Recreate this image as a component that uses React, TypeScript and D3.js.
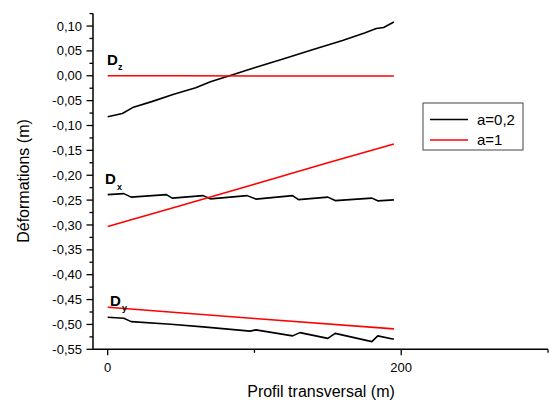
import React from "react";
import * as d3 from "d3";

const W = 549;
const H = 403;

// Dz
const dzBlackX = [0, 10, 17, 30, 45, 60, 70, 83, 100, 120, 140, 160, 175, 183, 188, 195];
const dzBlackY = [-0.0825, -0.076, -0.064, -0.052, -0.037, -0.024, -0.012, 0.0, 0.016, 0.034, 0.053, 0.071, 0.086, 0.095, 0.097, 0.108];
const dzRedX = [0, 50, 100, 150, 195];
const dzRedY = [0.0, 0.0, -0.0004, -0.0005, -0.0005];

// Dx
const dxBlackX = [0, 11, 16, 40, 44, 65, 70, 95, 101, 126, 130, 150, 155, 180, 184, 195];
const dxBlackY = [-0.239, -0.237, -0.244, -0.239, -0.246, -0.241, -0.2475, -0.241, -0.248, -0.241, -0.249, -0.244, -0.251, -0.246, -0.2515, -0.2495];
const dxRedX = [0, 50, 100, 150, 195];
const dxRedY = [-0.303, -0.261, -0.218, -0.175, -0.137];

// Dy
const dyBlackX = [0, 11, 16, 43, 65, 97, 101, 126, 131, 150, 155, 180, 184, 195];
const dyBlackY = [-0.4856, -0.4876, -0.4944, -0.4996, -0.505, -0.5135, -0.511, -0.523, -0.5165, -0.528, -0.518, -0.5346, -0.523, -0.5298];
const dyRedX = [0, 100, 195];
const dyRedY = [-0.4655, -0.488, -0.509];

const yMajorTicks = [0.1, 0.05, 0, -0.05, -0.1, -0.15, -0.2, -0.25, -0.3, -0.35, -0.4, -0.45, -0.5, -0.55];
const yMinorTicks = [0.125, 0.075, 0.025, -0.025, -0.075, -0.125, -0.175, -0.225, -0.275, -0.325, -0.375, -0.425, -0.475, -0.525];
const xMajorTicks = [0, 200];
const xMinorTicks = [100, 300];

const legendLabels = ["a=0,2", "a=1"];
const colors = ["#000000", "#ff0000"];

const FONT = "'Liberation Sans', Arial, sans-serif";

const x = d3.scaleLinear().domain([-10, 300]).range([93, 548]);
const y = d3.scaleLinear().domain([-0.55, 0.125]).range([349.3, 13.6]);

const line = d3
  .line<[number, number]>()
  .x((d) => x(d[0]))
  .y((d) => y(d[1]));

function zip(xs: number[], ys: number[]): [number, number][] {
  return xs.map((v, i) => [v, ys[i]]);
}

const series = [
  { xs: dzBlackX, ys: dzBlackY, c: colors[0] },
  { xs: dxBlackX, ys: dxBlackY, c: colors[0] },
  { xs: dyBlackX, ys: dyBlackY, c: colors[0] },
  { xs: dzRedX, ys: dzRedY, c: colors[1] },
  { xs: dxRedX, ys: dxRedY, c: colors[1] },
  { xs: dyRedX, ys: dyRedY, c: colors[1] },
];

const fmt = (v: number) => d3.format(".2f")(v).replace("−", "-").replace(".", ",");

const annotations = [
  { main: "D", sub: "z", x: 107, y: 65, sx: 118, sy: 70 },
  { main: "D", sub: "x", x: 105, y: 184, sx: 117, sy: 190 },
  { main: "D", sub: "y", x: 110, y: 306, sx: 122, sy: 311 },
];

export default function App() {
  const x0 = x.range()[0];
  const y0 = y.range()[0];
  return (
    <svg
      width={W}
      height={H}
      style={{ position: "absolute", left: 0, top: 0, background: "#fff" }}
      fontFamily={FONT}
    >
      <rect x={0} y={0} width={W} height={H} fill="#fff" />
      {/* data lines */}
      {series.map((s, i) => (
        <path
          key={i}
          d={line(zip(s.xs, s.ys)) || ""}
          fill="none"
          stroke={s.c}
          strokeWidth={1.6}
          strokeLinejoin="round"
        />
      ))}
      {/* axes */}
      <line x1={x0} y1={y.range()[1]} x2={x0} y2={y0} stroke="#000" strokeWidth={1.5} />
      <line x1={x0} y1={y0} x2={x.range()[1]} y2={y0} stroke="#000" strokeWidth={1.5} />
      {yMajorTicks.map((t) => (
        <g key={"ym" + t}>
          <line x1={x0 - 6.5} x2={x0} y1={y(t)} y2={y(t)} stroke="#000" strokeWidth={1.3} />
          <text x={x0 - 11} y={y(t)} dy="0.35em" textAnchor="end" fontSize={13} fill="#000">
            {fmt(t)}
          </text>
        </g>
      ))}
      {yMinorTicks.map((t) => (
        <line key={"yn" + t} x1={x0 - 3.5} x2={x0} y1={y(t)} y2={y(t)} stroke="#000" strokeWidth={1.3} />
      ))}
      {xMajorTicks.map((t) => (
        <g key={"xm" + t}>
          <line x1={x(t)} x2={x(t)} y1={y0} y2={y0 + 6} stroke="#000" strokeWidth={1.3} />
          <text x={x(t)} y={y0 + 23} textAnchor="middle" fontSize={13} fill="#000">
            {t}
          </text>
        </g>
      ))}
      {xMinorTicks.map((t) => (
        <line key={"xn" + t} x1={x(t)} x2={x(t)} y1={y0} y2={y0 + 3.5} stroke="#000" strokeWidth={1.3} />
      ))}
      {/* axis titles */}
      <text x={321} y={397} textAnchor="middle" fontSize={16} fill="#000">
        Profil transversal (m)
      </text>
      <text
        transform="translate(29,181) rotate(-90)"
        textAnchor="middle"
        fontSize={16}
        fill="#000"
      >
        Déformations (m)
      </text>
      {/* annotations */}
      {annotations.map((a, i) => (
        <g key={i} fontWeight="bold" fill="#000">
          <text x={a.x} y={a.y} fontSize={15}>
            {a.main}
          </text>
          <text x={a.sx} y={a.sy} fontSize={9}>
            {a.sub}
          </text>
        </g>
      ))}
      {/* legend */}
      <rect x={423} y={103} width={100} height={47} fill="#fff" stroke="#444" strokeWidth={1} />
      {legendLabels.map((l, i) => (
        <g key={l}>
          <line x1={430} x2={468} y1={119.5 + i * 20.5} y2={119.5 + i * 20.5} stroke={colors[i]} strokeWidth={1.6} />
          <text x={477} y={119.5 + i * 20.5} dy="0.35em" fontSize={15} fill="#000">
            {l}
          </text>
        </g>
      ))}
    </svg>
  );
}
